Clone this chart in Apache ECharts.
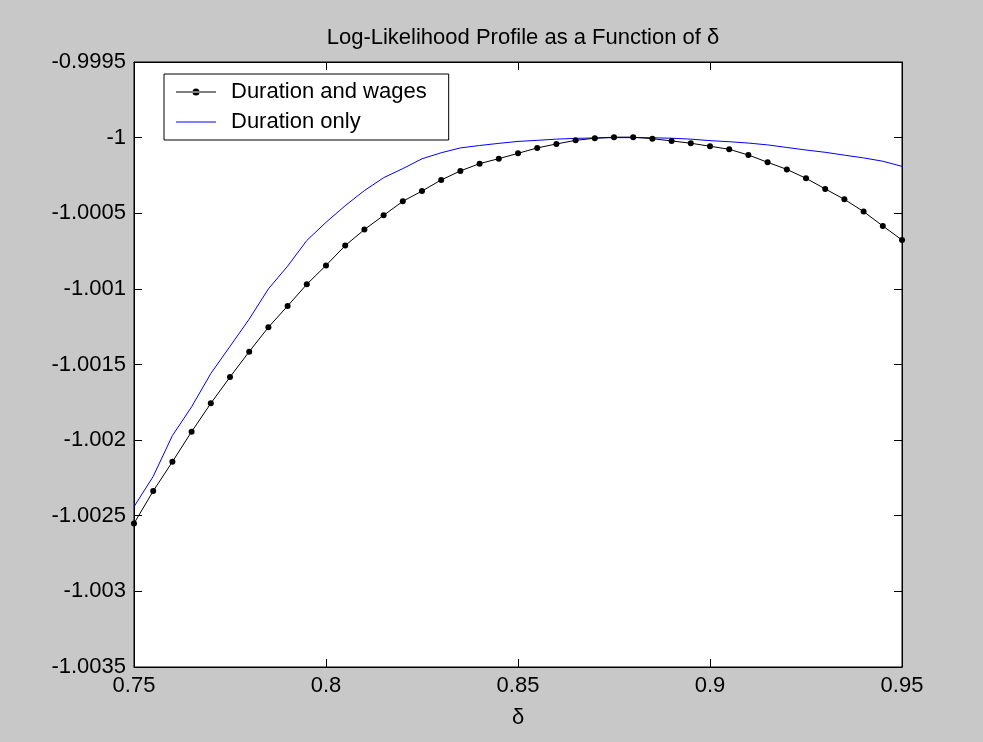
<!DOCTYPE html>
<html>
<head>
<meta charset="utf-8">
<script src="https://cdn.jsdelivr.net/npm/echarts@6/dist/echarts.min.js"></script>
<style>
  html, body { margin: 0; padding: 0; background: #c8c8c8; }
  #chart { width: 983px; height: 742px; }
</style>
</head>
<body>
<div id="chart"></div>
<script>
// δ values (x axis)
const delta = [0.75, 0.755, 0.76, 0.765, 0.77, 0.775, 0.78, 0.785, 0.79, 0.795,
  0.80, 0.805, 0.81, 0.815, 0.82, 0.825, 0.83, 0.835, 0.84, 0.845,
  0.85, 0.855, 0.86, 0.865, 0.87, 0.875, 0.88, 0.885, 0.89, 0.895,
  0.90, 0.905, 0.91, 0.915, 0.92, 0.925, 0.93, 0.935, 0.94, 0.945, 0.95];

// Series: Duration and wages
const durationAndWages = [-1.002551, -1.002337, -1.002143, -1.001944, -1.001757, -1.001583, -1.001415, -1.001254, -1.001113, -1.000970,
  -1.000845, -1.000714, -1.000608, -1.000514, -1.000421, -1.000353, -1.000280, -1.000220, -1.000172, -1.000139,
  -1.000104, -1.000068, -1.000042, -1.000018, -1.000004, -0.999997, -0.999997, -1.000007, -1.000022, -1.000037,
  -1.000057, -1.000077, -1.000115, -1.000163, -1.000210, -1.000269, -1.000339, -1.000408, -1.000489, -1.000584, -1.000677];

// Series: Duration only
const durationOnly = [-1.002440, -1.002240, -1.001970, -1.001780, -1.001560, -1.001380, -1.001200, -1.001000, -1.000850, -1.000680,
  -1.000560, -1.000450, -1.000350, -1.000265, -1.000205, -1.000140, -1.000100, -1.000068, -1.000052, -1.000038,
  -1.000025, -1.000018, -1.000010, -1.000005, -1.000002, -1.000000, -1.000000, -1.000001, -1.000004, -1.000010,
  -1.000020, -1.000027, -1.000036, -1.000048, -1.000065, -1.000082, -1.000097, -1.000116, -1.000134, -1.000156, -1.000190];

const seriesNames = ['Duration and wages', 'Duration only'];
const titleText = 'Log-Likelihood Profile as a Function of δ';
const xName = 'δ';

// axis ranges
const xMin = 0.75, xMax = 0.95, xStep = 0.05;
const yMin = -1.0035, yMax = -0.9995, yStep = 0.0005;

const FONT = 'Liberation Sans, Arial, sans-serif';
const fmt = v => String(parseFloat(Number(v).toFixed(4)));

// legend glyphs: line with dot, plain line
const iconLineDot = 'path://M0,3h40v1h-40zM16.5,3.5a3.5,3.5 0 1,0 7,0a3.5,3.5 0 1,0 -7,0z';
const iconLine = 'path://M0,0L0.01,0ZM0,7L0.01,7ZM0,3h40v1h-40z';

const chart = echarts.init(document.getElementById('chart'), null, { renderer: 'canvas' });

const tickStyle = { show: true, inside: true, length: 8, lineStyle: { color: '#000', width: 1 } };
const axisLine = { show: true, lineStyle: { color: '#000', width: 1 } };

chart.setOption({
  animation: false,
  backgroundColor: '#c8c8c8',
  textStyle: { fontFamily: FONT },
  title: {
    text: titleText,
    left: 518,
    textAlign: 'center',
    top: 22,
    textStyle: { fontFamily: FONT, fontSize: 22, fontWeight: 'normal', color: '#000' }
  },
  legend: {
    orient: 'vertical',
    left: 164,
    top: 74,
    data: [
      { name: seriesNames[0], icon: iconLineDot },
      { name: seriesNames[1], icon: iconLine }
    ],
    backgroundColor: '#fff',
    borderColor: '#000',
    borderWidth: 1,
    borderRadius: 0,
    padding: [6, 22, 6, 12],
    itemWidth: 40,
    itemHeight: 7,
    itemGap: 6,
    itemStyle: { borderWidth: 0 },
    textStyle: { fontFamily: FONT, fontSize: 22, lineHeight: 24, color: '#000', padding: [0, 0, 0, 10] }
  },
  grid: {
    left: 134, right: 81, top: 62, bottom: 75,
    show: true, backgroundColor: '#fff', borderColor: '#000', borderWidth: 1
  },
  xAxis: [{
    type: 'value', position: 'bottom', min: xMin, max: xMax, interval: xStep,
    name: xName, nameLocation: 'middle', nameGap: 40,
    nameTextStyle: { fontFamily: FONT, fontSize: 22, color: '#000' },
    axisLine: axisLine, axisTick: tickStyle, splitLine: { show: false },
    axisLabel: { fontFamily: FONT, fontSize: 22, color: '#000', margin: 8, formatter: fmt }
  }, {
    type: 'value', position: 'top', min: xMin, max: xMax, interval: xStep,
    axisLine: axisLine, axisTick: tickStyle, splitLine: { show: false },
    axisLabel: { show: false }
  }],
  yAxis: [{
    type: 'value', position: 'left', min: yMin, max: yMax, interval: yStep,
    axisLine: axisLine, axisTick: tickStyle, splitLine: { show: false },
    axisLabel: { fontFamily: FONT, fontSize: 22, color: '#000', margin: 8, formatter: fmt }
  }, {
    type: 'value', position: 'right', min: yMin, max: yMax, interval: yStep,
    axisLine: axisLine, axisTick: tickStyle, splitLine: { show: false },
    axisLabel: { show: false }
  }],
  series: [{
    name: seriesNames[0],
    type: 'line',
    data: delta.map((d, i) => [d, durationAndWages[i]]),
    symbol: 'circle', symbolSize: 6, showSymbol: true,
    itemStyle: { color: '#000' },
    lineStyle: { color: '#000', width: 1 },
    z: 3
  }, {
    name: seriesNames[1],
    type: 'line',
    data: delta.map((d, i) => [d, durationOnly[i]]),
    symbol: 'none',
    itemStyle: { color: '#0000ff' },
    lineStyle: { color: '#0000ff', width: 1 },
    z: 2
  }]
});
</script>
</body>
</html>
